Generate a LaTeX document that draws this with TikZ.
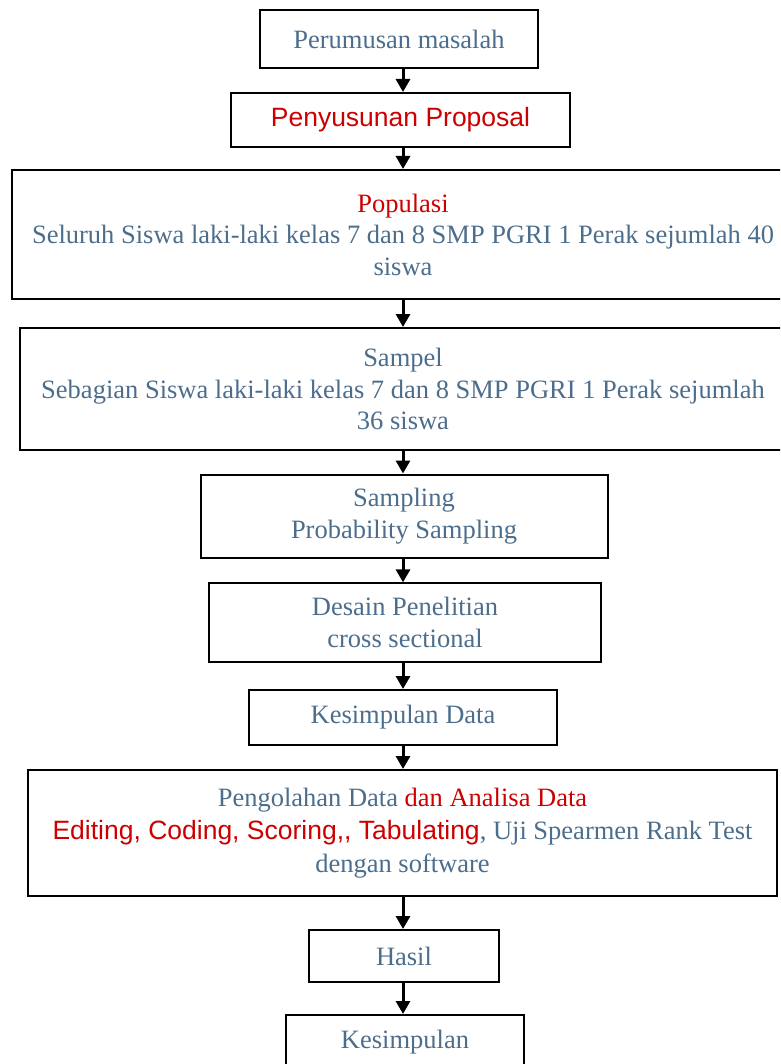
\documentclass[tikz,border=0pt]{standalone}
\usepackage{fontspec}
\setmainfont{Liberation Serif}
\newfontfamily\arialf{Liberation Sans}
\usetikzlibrary{arrows.meta}
\definecolor{txtblue}{RGB}{76,110,140}
\definecolor{txtred}{RGB}{204,0,0}
\begin{document}
\begin{tikzpicture}[x=1pt,y=-1pt,
  box/.style={draw=black, line width=2pt, inner sep=0pt, align=center, text=txtblue,
    font=\fontsize{26.5}{31.5}\selectfont},
  thinbox/.style={box, line width=1.3pt},
  arr/.style={line width=3pt, -{Triangle[width=14pt,length=13pt]}}]
\useasboundingbox (0,0) rectangle (780,1064);
\clip (0,0) rectangle (780,1064);
\coordinate (ax) at (403,0);
\node[box, minimum width=278, minimum height=58] (n1) at (399,39) {Perumusan masalah};
\node[box, minimum width=339, minimum height=54] (n2) at (400.5,120) {{\arialf\color{txtred}Penyusunan Proposal}};
\node[box, minimum width=782, minimum height=129] (n3) at (403,234.5) {{\color{txtred}Populasi}\\Seluruh Siswa laki-laki kelas 7 dan 8 SMP PGRI 1 Perak sejumlah 40\\siswa};
\node[box, minimum width=766, minimum height=122] (n4) at (403,389) {Sampel\\Sebagian Siswa laki-laki kelas 7 dan 8 SMP PGRI 1 Perak sejumlah\\36 siswa};
\node[box, minimum width=407, minimum height=83] (n5) at (404,516) {Sampling\\Probability Sampling};
\node[thinbox, minimum width=392, minimum height=79] (n6) at (405,622.5) {Desain Penelitian\\cross sectional};
\node[box, minimum width=308, minimum height=55] (n7) at (403,717.5) {Kesimpulan Data};
\node[box, minimum width=749, minimum height=126] (n8) at (402.5,833) {Pengolahan Data {\color{txtred}dan Analisa Data}\\[1.5pt] {\arialf\color{txtred}Editing, Coding, Scoring,, Tabulating}, Uji Spearmen Rank Test\\[1.5pt]dengan software};
\node[box, minimum width=190, minimum height=52] (n9) at (404,956) {Hasil};
\node[box, minimum width=238, minimum height=54] (n10) at (405,1042) {Kesimpulan};
\foreach \a/\b in {n1/n2,n2/n3,n3/n4,n4/n5,n5/n6,n6/n7,n7/n8,n8/n9,n9/n10}
  \draw[arr] (\a.south -| ax) -- (\b.north -| ax);
\end{tikzpicture}
\end{document}
